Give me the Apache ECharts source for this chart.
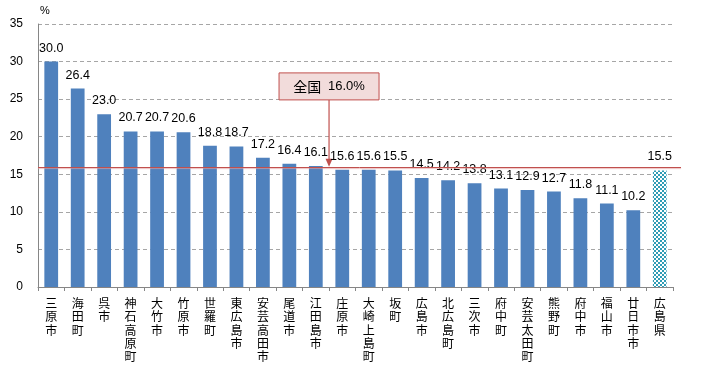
<!DOCTYPE html>
<html><head><meta charset="utf-8">
<script src="https://cdn.jsdelivr.net/npm/echarts@6/dist/echarts.min.js"></script>
<style>html,body{margin:0;padding:0;background:#fff}#c{width:704px;height:365px}</style>
</head><body><div id="c"></div>
<script>
const categories = ['三原市','海田町','呉市','神石高原町','大竹市','竹原市','世羅町','東広島市','安芸高田市','尾道市','江田島市','庄原市','大崎上島町','坂町','広島市','北広島町','三次市','府中町','安芸太田町','熊野町','府中市','福山市','廿日市市','広島県'];
const values = [30.0,26.4,23.0,20.7,20.7,20.6,18.8,18.7,17.2,16.4,16.1,15.6,15.6,15.5,14.5,14.2,13.8,13.1,12.9,12.7,11.8,11.1,10.2,15.5];
const nationalValue = 16.0;
const nationalName = '全国';
const nationalText = '16.0%';
const yTicks = [0,5,10,15,20,25,30,35];

// checker pattern for prefecture bar
const pc = document.createElement('canvas');
pc.width = 4; pc.height = 4;
const pctx = pc.getContext('2d');
pctx.fillStyle = '#ffffff'; pctx.fillRect(0,0,4,4);
pctx.fillStyle = '#2f9cb5';
pctx.fillRect(0,0,2,2); pctx.fillRect(2,2,2,2);

const font = '"Noto Sans CJK JP", "DejaVu Sans", sans-serif';
const numFont = '"Liberation Sans", Arial, sans-serif';
const barData = values.map((v,i) => i === values.length - 1
  ? {value: v, itemStyle: {color: {image: pc, repeat: 'repeat'}}}
  : v);

const chart = echarts.init(document.getElementById('c'));
chart.setOption({
  animation: false,
  textStyle: {fontFamily: font},
  grid: {left: 38, right: 31, top: 24, bottom: 78},
  xAxis: {
    type: 'category',
    data: categories,
    axisLine: {lineStyle: {color: '#868686'}},
    axisTick: {show: true, alignWithLabel: false, length: 4, lineStyle: {color: '#868686'}},
    axisLabel: {
      interval: 0, margin: 10, color: '#000', fontSize: 12, lineHeight: 13.2,
      fontFamily: font,
      formatter: v => v.split('').join('\n'), verticalAlign: 'top'
    }
  },
  yAxis: {
    type: 'value', min: yTicks[0], max: yTicks[yTicks.length-1], interval: 5,
    name: '%', nameLocation: 'end', nameGap: 8,
    nameTextStyle: {color: '#000', fontSize: 11, align: 'left', padding: [0,0,0,2], fontFamily: numFont},
    axisLine: {show: true, lineStyle: {color: '#868686'}},
    axisTick: {show: false},
    axisLabel: {color: '#000', fontSize: 12, margin: 15, fontFamily: numFont},
    splitLine: {lineStyle: {color: '#a6a6a6', type: [4,3]}}
  },
  series: [{
    type: 'bar',
    data: barData,
    barWidth: '52%',
    itemStyle: {color: '#4f81bd'},
    label: {
      show: true, position: 'top', distance: 7, color: '#000', fontSize: 12.5,
      fontFamily: numFont,
      formatter: p => p.value.toFixed(1)
    },
    markLine: {
      silent: true,
      animation: false,
      symbol: 'none',
      data: [
        [{yAxis: nationalValue, x: 38}, {yAxis: nationalValue, x: 681}]
      ],
      lineStyle: {color: '#c0504d', type: 'solid', width: 1, shadowColor: 'rgba(230,160,160,0.7)', shadowBlur: 1, shadowOffsetY: 1},
      label: {show: false}
    }
  }]
});

// annotation "全国 16.0%" pointing at the national line, placed between 江田島市 and 庄原市
const i0 = categories.indexOf('江田島市');
const xA = (chart.convertToPixel({xAxisIndex: 0}, categories[i0]) + chart.convertToPixel({xAxisIndex: 0}, categories[i0 + 1])) / 2;
const yTip = chart.convertToPixel({yAxisIndex: 0}, nationalValue);
const yBoxBottom = chart.convertToPixel({yAxisIndex: 0}, 24.9);
const boxW = 100, boxH = 27;
chart.setOption({
  graphic: [
    {type: 'line', silent: true, shape: {x1: xA, y1: yBoxBottom, x2: xA, y2: yTip - 6}, style: {stroke: '#c0504d', lineWidth: 1.2}},
    {type: 'polygon', silent: true, shape: {points: [[xA - 3.5, yTip - 8], [xA + 3.5, yTip - 8], [xA, yTip]]}, style: {fill: '#c0504d'}},
    {type: 'rect', silent: true, shape: {x: xA - boxW/2, y: yBoxBottom - boxH, width: boxW, height: boxH}, style: {fill: '#f2dcdb', stroke: '#c0504d', lineWidth: 1}},
    {type: 'text', silent: true, x: xA, y: yBoxBottom - boxH/2,
     style: {text: '{a|' + nationalName + '}  {b|' + nationalText + '}', align: 'center', verticalAlign: 'middle',
       rich: {a: {fontSize: 14, fontFamily: font, fill: '#000'}, b: {fontSize: 13, fontFamily: numFont, fill: '#000'}}}}
  ]
});
</script></body></html>
